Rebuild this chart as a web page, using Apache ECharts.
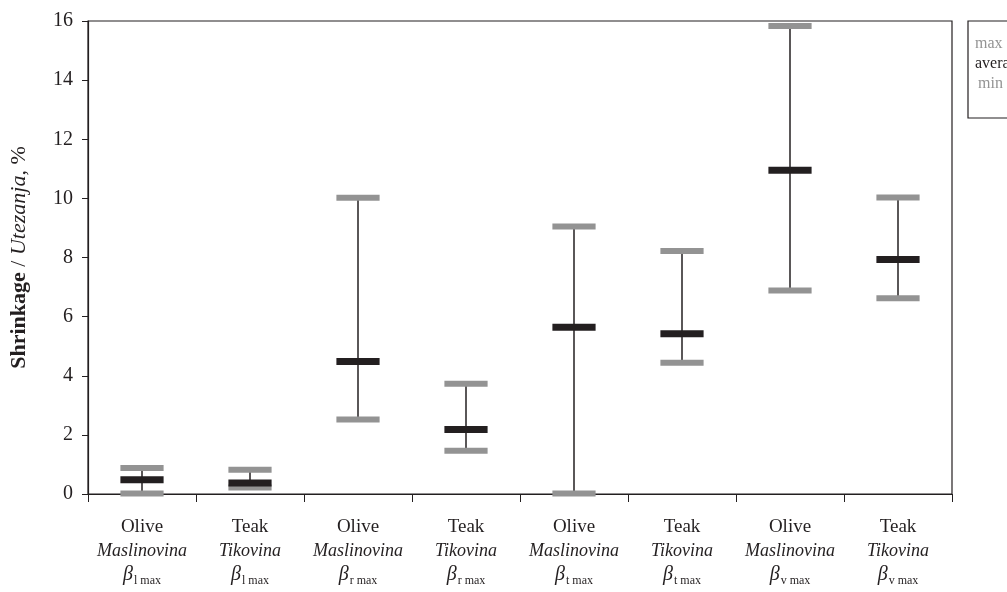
<!DOCTYPE html>
<html>
<head>
<meta charset="utf-8">
<script src="https://cdn.jsdelivr.net/npm/echarts@6/dist/echarts.min.js"></script>
<style>html,body{margin:0;padding:0;background:#fff;}#c{width:1007px;height:592px;}</style>
</head>
<body>
<div id="c"></div>
<script>
const species = ['Olive', 'Teak', 'Olive', 'Teak', 'Olive', 'Teak', 'Olive', 'Teak'];
const localNames = ['Maslinovina', 'Tikovina', 'Maslinovina', 'Tikovina', 'Maslinovina', 'Tikovina', 'Maslinovina', 'Tikovina'];
const subscripts = ['l max', 'l max', 'r max', 'r max', 't max', 't max', 'v max', 'v max'];
const maxValues = [0.88, 0.82, 10.02, 3.73, 9.05, 8.22, 15.83, 10.03];
const avgValues = [0.48, 0.37, 4.48, 2.18, 5.64, 5.42, 10.95, 7.93];
const minValues = [0.02, 0.22, 2.52, 1.46, 0.02, 4.44, 6.88, 6.62];
const yTicks = [0, 2, 4, 6, 8, 10, 12, 14, 16];

const categories = species.map((s, i) => i);
const data = categories.map(i => [i, maxValues[i], avgValues[i], minValues[i]]);

const serif = 'Liberation Serif';
const GRAY = '#939393';
const BLACK = '#231f20';

function renderItem(params, api) {
  const i = api.value(0);
  const pMax = api.coord([i, api.value(1)]);
  const pAvg = api.coord([i, api.value(2)]);
  const pMin = api.coord([i, api.value(3)]);
  const band = api.size([1, 0])[0];
  const w = band * 0.4;
  const x = pMax[0];
  return {
    type: 'group',
    children: [
      { type: 'line', shape: { x1: x, y1: pMax[1], x2: x, y2: pMin[1] }, style: { stroke: BLACK, lineWidth: 1.5 } },
      { type: 'rect', shape: { x: x - w / 2, y: pMax[1] - 3, width: w, height: 6 }, style: { fill: GRAY } },
      { type: 'rect', shape: { x: x - w / 2, y: pMin[1] - 3, width: w, height: 6 }, style: { fill: GRAY } },
      { type: 'rect', shape: { x: x - w / 2, y: pAvg[1] - 3.5, width: w, height: 7 }, style: { fill: BLACK } }
    ]
  };
}

const chart = echarts.init(document.getElementById('c'));
chart.setOption({
  animation: false,
  backgroundColor: '#fff',
  grid: { left: 88, right: 55, top: 21, bottom: 98, show: true, borderColor: BLACK, borderWidth: 1.2, backgroundColor: 'transparent' },
  xAxis: {
    type: 'category',
    data: categories,
    boundaryGap: true,
    axisLine: { lineStyle: { color: BLACK, width: 1.2 } },
    axisTick: { show: true, inside: false, length: 8, alignWithLabel: false, lineStyle: { color: BLACK } },
    axisLabel: {
      interval: 0,
      margin: 21,
      formatter: (v) => {
        const i = Number(v);
        return species[i] + '\n{it|' + localNames[i] + '}\n{b|β}{s|' + subscripts[i] + '}';
      },
      color: BLACK,
      fontFamily: serif,
      fontSize: 19,
      lineHeight: 24,
      rich: {
        it: { fontFamily: serif, fontStyle: 'italic', fontSize: 18, color: BLACK, lineHeight: 24 },
        b: { fontFamily: serif, fontStyle: 'italic', fontSize: 20, color: BLACK, lineHeight: 24 },
        s: { fontFamily: serif, fontSize: 12, color: BLACK, lineHeight: 24, verticalAlign: 'bottom', padding: [13, 0, 0, 1] }
      }
    },
    splitLine: { show: false }
  },
  yAxis: {
    type: 'value',
    min: 0, max: 16, interval: 2,
    axisLine: { show: true, lineStyle: { color: BLACK, width: 1.2 } },
    axisTick: { show: true, inside: false, length: 6, lineStyle: { color: BLACK } },
    axisLabel: { color: BLACK, fontFamily: serif, fontSize: 20, margin: 15, formatter: (v) => yTicks.includes(v) ? String(v) : '' },
    splitLine: { show: false },
    name: '{b|Shrinkage} / {i|Utezanja}, %',
    nameLocation: 'middle',
    nameRotate: 90,
    nameGap: 58,
    nameTextStyle: {
      fontFamily: serif, fontSize: 22, color: BLACK,
      rich: {
        b: { fontFamily: serif, fontSize: 22, fontWeight: 'bold', color: BLACK },
        i: { fontFamily: serif, fontSize: 22, fontStyle: 'italic', color: BLACK }
      }
    }
  },
  series: [{
    type: 'custom',
    renderItem: renderItem,
    data: data,
    clip: false,
    encode: { x: 0, y: [1, 2, 3] }
  }],
  graphic: [
    { type: 'rect', shape: { x: 968, y: 21, width: 60, height: 97 }, style: { fill: '#fff', stroke: BLACK, lineWidth: 1.2 } },
    { type: 'text', x: 975, y: 44, style: { text: 'max', fill: GRAY, font: '16px "Liberation Serif"', textVerticalAlign: 'middle' } },
    { type: 'text', x: 975, y: 64, style: { text: 'average', fill: BLACK, font: '16px "Liberation Serif"', textVerticalAlign: 'middle' } },
    { type: 'text', x: 978, y: 84, style: { text: 'min', fill: GRAY, font: '16px "Liberation Serif"', textVerticalAlign: 'middle' } }
  ]
});
</script>
</body>
</html>
